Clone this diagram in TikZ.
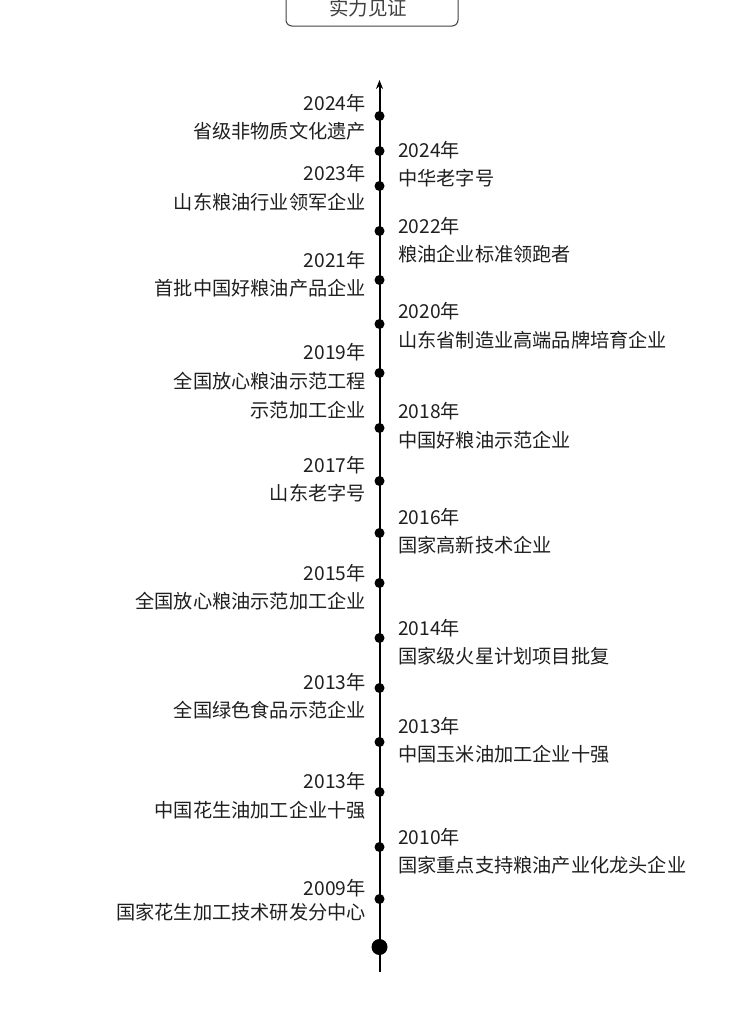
\documentclass[tikz,border=0pt]{standalone}
\usepackage{fontspec}
\setmainfont{Noto Sans CJK SC}
\usetikzlibrary{arrows.meta}
\begin{document}
\begin{tikzpicture}[x=1pt,y=-1pt,
  lbl/.style={inner sep=0pt, font=\fontsize{19.2}{19.2}\selectfont, text=black!88, text height=0.8em, text depth=0.1em, yshift=-4pt},
  L/.style={lbl, anchor=east},
  R/.style={lbl, anchor=west},
  dot/.style={circle, fill=black, inner sep=0pt, minimum size=10pt},
  bigdot/.style={circle, fill=black, inner sep=0pt, minimum size=16pt},
  axis/.style={line width=2pt, -{Stealth[length=9pt,width=7pt]}},
  titlebox/.style={rounded corners=6pt, line width=1pt, draw=black!75}]
\useasboundingbox (0,0) rectangle (750,1036);
% title
\draw[titlebox] (286,-12) rectangle (458,26);
\node[lbl, text=black!75, font=\fontsize{19.5}{19.5}\selectfont] (title) at (368,8) {实力见证};
% axis
\coordinate (top) at (379.5,80);
\coordinate (bot) at (379.5,972);
\draw[axis] (bot) -- (top);
% dots
\foreach \n/\y in {1/116,2/151,3/186,4/231,5/280,6/324,7/373,8/428,9/481,10/533,11/583,12/638,13/688,14/742,15/792,16/847,17/899}
  \node[dot] (d\n) at (379.5,\y) {};
\node[bigdot] (dend) at (379.5,947) {};
% left entries
\node[L] (y1) at (366,103) {2024年};
\node[L] (t1) at (366,131) {省级非物质文化遗产};
\node[L] (y3) at (366,173) {2023年};
\node[L] (t3) at (366,202) {山东粮油行业领军企业};
\node[L] (y5) at (366,260) {2021年};
\node[L] (t5) at (366,288) {首批中国好粮油产品企业};
\node[L] (y7) at (366,352) {2019年};
\node[L] (t7) at (366,381) {全国放心粮油示范工程};
\node[L] (t7b) at (366,410) {示范加工企业};
\node[L] (y9) at (366,465) {2017年};
\node[L] (t9) at (366,493) {山东老字号};
\node[L] (y11) at (366,573) {2015年};
\node[L] (t11) at (366,601) {全国放心粮油示范加工企业};
\node[L] (y13) at (366,682) {2013年};
\node[L] (t13) at (366,710) {全国绿色食品示范企业};
\node[L] (y15) at (366,781) {2013年};
\node[L] (t15) at (366,810) {中国花生油加工企业十强};
\node[L] (y17) at (366,888) {2009年};
\node[L] (t17) at (366,912) {国家花生加工技术研发分中心};
% right entries
\node[R] (y2) at (398,150) {2024年};
\node[R] (t2) at (398,178) {中华老字号};
\node[R] (y4) at (398,226) {2022年};
\node[R] (t4) at (398,254) {粮油企业标准领跑者};
\node[R] (y6) at (398,311) {2020年};
\node[R] (t6) at (398,340) {山东省制造业高端品牌培育企业};
\node[R] (y8) at (398,411) {2018年};
\node[R] (t8) at (398,440) {中国好粮油示范企业};
\node[R] (y10) at (398,517) {2016年};
\node[R] (t10) at (398,545) {国家高新技术企业};
\node[R] (y12) at (398,628) {2014年};
\node[R] (t12) at (398,656) {国家级火星计划项目批复};
\node[R] (y14) at (398,726) {2013年};
\node[R] (t14) at (398,754) {中国玉米油加工企业十强};
\node[R] (y16) at (398,837) {2010年};
\node[R] (t16) at (398,865) {国家重点支持粮油产业化龙头企业};
\end{tikzpicture}
\end{document}
